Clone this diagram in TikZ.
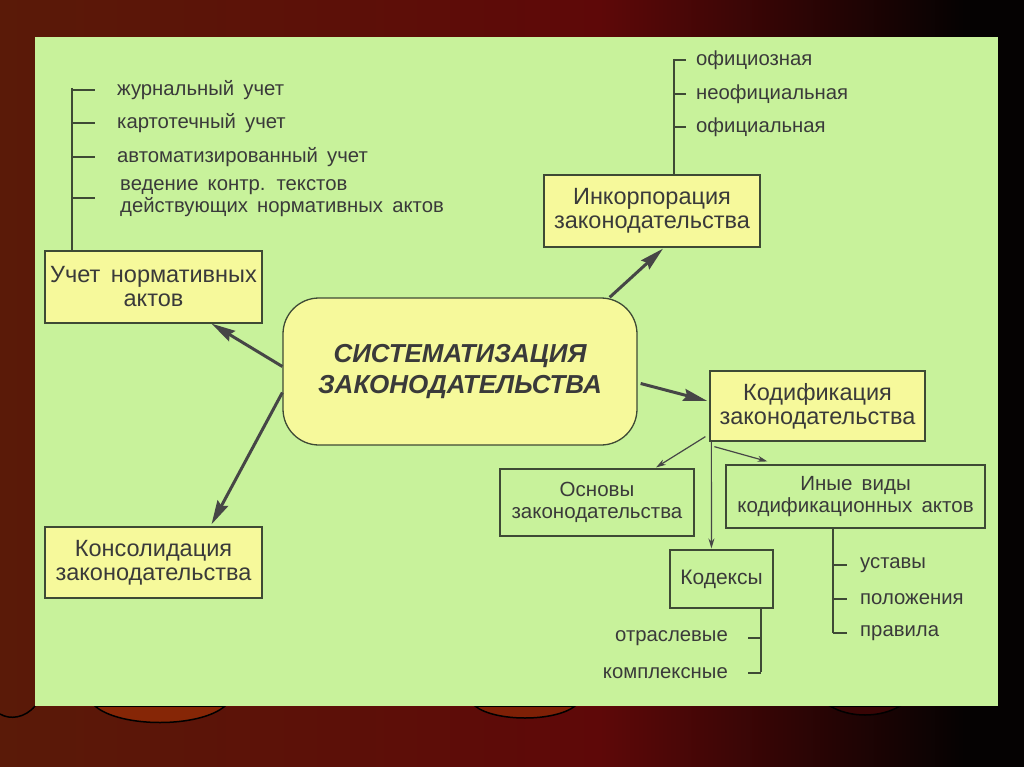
\documentclass[tikz,border=0pt]{standalone}
\usepackage{fontspec}
\setmainfont{Liberation Sans}
\usetikzlibrary{arrows.meta,calc}
\definecolor{panelgreen}{HTML}{C8F29B}
\definecolor{boxyellow}{HTML}{F6F99B}
\definecolor{edgecol}{HTML}{3E4A35}
\definecolor{txtcol}{HTML}{3A3A3A}
\definecolor{arrcol}{HTML}{464646}
\definecolor{curtL}{HTML}{5A1A08}
\definecolor{curtM}{HTML}{5E0808}
\definecolor{curtR}{HTML}{050202}
\newcommand{\wsp}{\spaceskip=0.45em plus 0.1em\relax}
\tikzset{
  box/.style={draw=edgecol, line width=1.3pt, fill=boxyellow, inner sep=0pt, align=center,
    text=txtcol, font=\fontsize{23.5}{24}\selectfont\wsp},
  gbox/.style={draw=edgecol, line width=1.1pt, fill=panelgreen, inner sep=0pt, align=center,
    text=txtcol, font=\fontsize{20.5}{22}\selectfont\wsp},
  item/.style={text=txtcol, inner sep=0pt, font=\fontsize{20.3}{21.5}\selectfont\wsp, align=left},
  bracket/.style={draw=edgecol, line width=1.1pt},
  bigarrow/.style={draw=arrcol, line width=3pt, -{Stealth[length=24pt,width=12pt,inset=3pt]}},
  thinarrow/.style={draw=arrcol, line width=1.2pt, -{Stealth[length=10pt,width=6pt]}},
}
\begin{document}
\begin{tikzpicture}[x=1pt,y=-1pt]
\useasboundingbox (0,0) rectangle (1024,767);
% background curtain
\shade[left color=curtL, right color=curtM] (0,0) rectangle (600,767);
\shade[left color=curtM, right color=curtR] (599,0) rectangle (965,767);
\fill[curtR] (964,0) rectangle (1024,767);
% scallops under the panel
\filldraw[fill=curtM!75!orange, draw=black, line width=1.5pt] (95,706) .. controls (120,728) and (200,728) .. (225,706) -- cycle;
\filldraw[fill=curtM!80!orange, draw=black, line width=1.5pt] (475,706) .. controls (495,722) and (555,722) .. (575,706) -- cycle;
\filldraw[fill=curtM!60!black, draw=black, line width=1.5pt] (830,706) .. controls (850,718) and (880,718) .. (900,706) -- cycle;
\draw[black, line width=1.5pt] (0,714) .. controls (10,720) and (25,718) .. (35,706);
% panel
\fill[panelgreen] (35,37) rectangle (998,706);

% main nodes
\node[box, rounded corners=36pt, minimum width=354pt, minimum height=147pt,
      font=\fontsize{26}{31}\selectfont\bfseries\itshape] (sys) at (460,371.5)
      {СИСТЕМАТИЗАЦИЯ\\ЗАКОНОДАТЕЛЬСТВА};
\node[box, minimum width=217pt, minimum height=72pt] (ucet) at (153.5,287) {Учет нормативных\\актов};
\node[box, minimum width=216pt, minimum height=72pt] (inkorp) at (652,211) {Инкорпорация\\законодательства};
\node[box, minimum width=215pt, minimum height=70pt] (kodif) at (817.5,406) {Кодификация\\законодательства};
\node[box, minimum width=217pt, minimum height=71pt] (konsol) at (153.5,562.5) {Консолидация\\законодательства};
\node[gbox, minimum width=194pt, minimum height=67pt] (osnovy) at (597,502.5) {Основы\\законодательства};
\node[gbox, minimum width=259pt, minimum height=63pt] (inye) at (855.5,496.5) {Иные виды\\кодификационных актов};
\node[gbox, minimum width=103pt, minimum height=58pt, font=\fontsize{21}{21}\selectfont] (kodeksy) at (721.5,579) {Кодексы};

% big arrows
\draw[bigarrow] ($(sys.west)+(0,-5)$) -- ($(ucet.south)+(58,0)$);
\draw[bigarrow] ($(sys.west)+(0,21)$) -- ($(konsol.north)+(58,-2)$);
\draw[bigarrow] ($(sys.north east)+(-28,0)$) -- ($(inkorp.south)+(11,1)$);
\draw[bigarrow] ($(sys.east)+(3,12)$) -- ($(kodif.west)+(-2,-5)$);
% thin arrows
\draw[thinarrow] ($(kodif.south west)+(-4,-5)$) -- ($(osnovy.north)+(59,-1)$);
\draw[thinarrow] ($(kodif.south west)+(2,0)$) -- ($(kodeksy.north west)+(42,-1)$);
\draw[thinarrow] ($(kodif.south west)+(5,5)$) -- ($(inye.north west)+(42,-3)$);

% left list (Учет)
\node[item, anchor=west] (u1) at (117,90) {журнальный учет};
\node[item, anchor=west] (u2) at (117,123) {картотечный учет};
\node[item, anchor=west] (u3) at (117,157) {автоматизированный учет};
\node[item, anchor=west] (u4) at (120,198) {ведение контр. текстов\\действующих нормативных актов};
\coordinate (ut) at (72,88);
\draw[bracket] (ut) -- (ucet.north -| ut);
\foreach \n/\g in {u1/22,u2/22,u3/22,u4/25}
  \draw[bracket] (\n.west -| ut) -- ($(\n.west)+(-\g,0)$);

% Инкорпорация list
\node[item, anchor=west] (i1) at (696,60) {официозная};
\node[item, anchor=west] (i2) at (696,94) {неофициальная};
\node[item, anchor=west] (i3) at (696,127) {официальная};
\coordinate (it) at (674,59);
\draw[bracket] (it) -- (inkorp.north -| it);
\foreach \n in {i1,i2,i3}
  \draw[bracket] (\n.west -| it) -- ($(\n.west)+(-10,0)$);

% Кодексы list
\node[item, anchor=east] (k1) at (728,638) {отраслевые};
\node[item, anchor=east] (k2) at (728,673) {комплексные};
\coordinate (kt) at (761,672);
\draw[bracket] (kodeksy.south -| kt) -- (kt);
\foreach \n in {k1,k2}
  \draw[bracket] (\n.east -| kt) -- ($(\n.east)+(20,0)$);

% Иные виды list
\node[item, anchor=west] (n1) at (860,565) {уставы};
\node[item, anchor=west] (n2) at (860,599) {положения};
\node[item, anchor=west] (n3) at (860,633) {правила};
\coordinate (nt) at (833,633);
\draw[bracket] (inye.south -| nt) -- (nt);
\foreach \n in {n1,n2,n3}
  \draw[bracket] (\n.west -| nt) -- ($(\n.west)+(-13,0)$);
\end{tikzpicture}
\end{document}
